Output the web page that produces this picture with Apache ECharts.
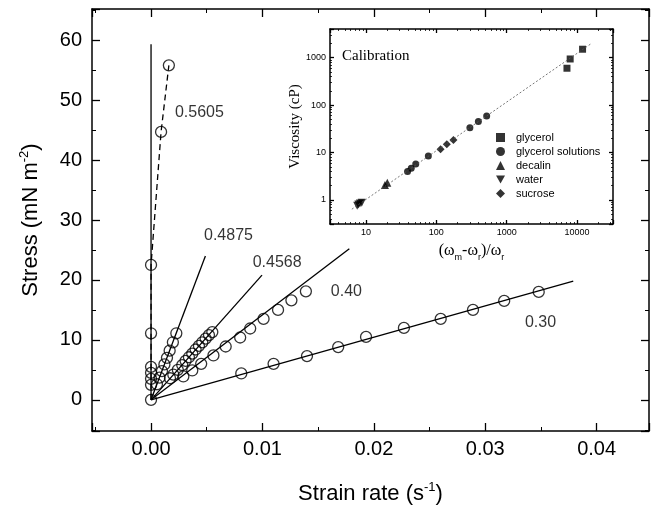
<!DOCTYPE html>
<html>
<head>
<meta charset="utf-8">
<title>Stress vs strain rate</title>
<script src="https://cdn.jsdelivr.net/npm/echarts@6/dist/echarts.min.js"></script>
<style>
  html, body { margin: 0; padding: 0; background: #fff; }
  #chart { width: 654px; height: 510px; }
</style>
</head>
<body>
<div id="chart"></div>
<script>
'use strict';
// DATA - main plot (strain rate in s^-1, stress in mN m^-2)
const x5605 = [0, 0, 0, 0, 0, 0, 0, 0.0009, 0.0016];
const y5605 = [0, 2.5, 3.5, 4.5, 5.5, 11.1, 22.5, 44.7, 55.8];
const x4875 = [0.00053, 0.00076, 0.00098, 0.0012, 0.00143, 0.00167, 0.00196, 0.00227];
const y4875 = [2.6, 3.7, 4.8, 5.9, 7.0, 8.2, 9.6, 11.1];
const x4568 = [0.0017, 0.0020, 0.0024, 0.0028, 0.0031, 0.0034, 0.0037, 0.0040, 0.0043, 0.0046, 0.0049, 0.0052, 0.0055];
const y4568 = [3.6, 4.2, 5.0, 5.8, 6.5, 7.1, 7.7, 8.4, 9.0, 9.6, 10.2, 10.8, 11.3];
const x40 = [0.0029, 0.0037, 0.0045, 0.0056, 0.0067, 0.0080, 0.0089, 0.0101, 0.0114, 0.0126, 0.0139];
const y40 = [3.9, 4.9, 6.0, 7.4, 8.9, 10.4, 11.9, 13.5, 15.0, 16.6, 18.1];
const x30 = [0.0081, 0.0110, 0.0140, 0.0168, 0.0193, 0.0227, 0.0260, 0.0289, 0.0317, 0.0348];
const y30 = [4.4, 6.0, 7.3, 8.8, 10.5, 12.0, 13.5, 15.0, 16.5, 18.0];
// fitted straight lines (end points, all start at the origin)
const fitEndX = [0, 0.00488, 0.00996, 0.0178, 0.0379];
const fitEndY = [59.3, 24.0, 20.8, 25.2, 19.8];
// series tags
const tagText = ['0.5605', '0.4875', '0.4568', '0.40', '0.30'];
const tagAtX = [0.00434, 0.00695, 0.01132, 0.01754, 0.03496];
const tagAtY = [48.0, 27.4, 22.9, 18.0, 12.9];

// DATA - calibration inset
const calNames = ['glycerol', 'glycerol solutions', 'decalin', 'water', 'sucrose'];
const calX = [
  [7200, 8000, 12000],
  [39, 44, 51, 77, 300, 396, 520],
  [18.6, 20.1],
  [7.5, 7.8, 8.2, 8.7],
  [115, 141, 175],
];
const calY = [
  [600, 940, 1510],
  [4.0, 4.7, 5.75, 8.5, 33.5, 45, 59],
  [2.07, 2.32],
  [0.76, 0.8, 0.84, 0.88],
  [11.7, 15.0, 18.4],
];
const calFitX = [6.3, 16200];
const calFitY = [0.64, 2020];

// STYLE
const SANS = '"Liberation Sans", Arial, sans-serif';
const SERIF = '"Liberation Serif", "Times New Roman", serif';
const calSymbols = ['rect', 'circle', 'triangle', 'path://M0,0L2,0L1,1.75Z', 'diamond'];
const calSizes = [7, 7, 8, 8, 8];

const chart = echarts.init(document.getElementById('chart'), null, {renderer: 'canvas'});

/**
 * pairs two arrays into [x, y] points
 * @param {Array} xs
 * @param {Array} ys
 * @return {Array}
 */
function zip(xs, ys) {
  return xs.map((x, i) => [x, ys[i]]);
}

/**
 * common look of a framed axis with ticks pointing inwards
 * @param {Object} extra
 * @param {Number} tick
 * @return {Object}
 */
function frameAxis(extra, tick) {
  return Object.assign({
    splitLine: {show: false},
    axisLine: {show: true, onZero: false, lineStyle: {color: '#000', width: 1.5}},
    axisTick: {show: true, inside: true, length: tick, lineStyle: {color: '#000', width: 1.3}},
    minorTick: {show: true, splitNumber: 2, length: tick / 2, lineStyle: {color: '#000', width: 1}},
    axisLabel: {show: false},
  }, extra);
}

const mainX = {min: -0.0053, max: 0.0447, splitNumber: 5};
const mainY = {min: -5.2, max: 65.2, splitNumber: 7};
const calXr = {type: 'log', logBase: 10, min: 3.08, max: 32500};
const calYr = {type: 'log', logBase: 10, min: 0.312, max: 4030};

const mainLabel = {
  show: true, color: '#000', fontFamily: SANS, fontSize: 20,
  showMinLabel: false, showMaxLabel: false,
};
const calLabel = {
  show: true, color: '#000', fontFamily: SANS, fontSize: 9, margin: 4,
  showMinLabel: false, showMaxLabel: false,
  formatter: (v) => String(Math.round(v)),
};
const calMinor = {show: true, splitNumber: 9, length: 2, lineStyle: {color: '#000', width: 0.8}};

const series = [];
// fitted lines
fitEndX.forEach((x, i) => {
  series.push({
    type: 'line', xAxisIndex: 0, yAxisIndex: 0, silent: true,
    symbol: 'none', data: [[0, 0], [x, fitEndY[i]]],
    lineStyle: {color: '#000', width: 1.3},
  });
});
// dashed guide through the 0.5605 points
series.push({
  type: 'line', xAxisIndex: 0, yAxisIndex: 0, symbol: 'none',
  data: zip(x5605, y5605),
  lineStyle: {color: '#000', width: 1.3, type: [6, 4]},
});
// measured points
[[x5605, y5605], [x4875, y4875], [x4568, y4568], [x40, y40], [x30, y30]].forEach((p) => {
  series.push({
    type: 'scatter', xAxisIndex: 0, yAxisIndex: 0,
    symbol: 'circle', symbolSize: 11, data: zip(p[0], p[1]),
    itemStyle: {color: 'rgba(0,0,0,0)', borderColor: '#000', borderWidth: 1.3},
  });
});
// tags
series.push({
  type: 'scatter', xAxisIndex: 0, yAxisIndex: 0, symbolSize: 0,
  data: tagText.map((t, i) => ({name: t, value: [tagAtX[i], tagAtY[i]]})),
  label: {
    show: true, position: 'inside', formatter: '{b}',
    color: '#000', fontFamily: SANS, fontSize: 16,
  },
});
// calibration fit
series.push({
  type: 'line', xAxisIndex: 2, yAxisIndex: 2, symbol: 'none',
  data: zip(calFitX, calFitY),
  lineStyle: {color: '#555', width: 0.8, type: [2, 2]},
});
calNames.forEach((name, i) => {
  series.push({
    type: 'scatter', name: name, xAxisIndex: 2, yAxisIndex: 2,
    symbol: calSymbols[i], symbolSize: calSizes[i],
    data: zip(calX[i], calY[i]),
    itemStyle: {color: '#000'},
  });
});

const option = {
  animation: false,
  backgroundColor: '#fff',
  grid: [
    {left: 92, right: 5, top: 9, bottom: 79, containLabel: false, outerBoundsMode: 'none'},
    {left: 330, right: 41, top: 29, bottom: 286, containLabel: false, outerBoundsMode: 'none',
      show: true, backgroundColor: '#fff', borderWidth: 0},
  ],
  legend: {
    orient: 'vertical', left: 491, top: 127,
    itemWidth: 9, itemHeight: 9, itemGap: 3,
    textStyle: {color: '#000', fontFamily: SANS, fontSize: 11, lineHeight: 10, padding: [0, 0, 0, 6]},
    data: calNames, selectedMode: false,
  },
  title: {
    text: 'Calibration', left: 337, top: 44,
    textStyle: {fontFamily: SERIF, fontWeight: 'normal', fontSize: 15, color: '#000'},
  },
  xAxis: [
    frameAxis(Object.assign({
      type: 'value', gridIndex: 0, position: 'bottom',
      axisLabel: Object.assign({margin: 8, formatter: (v) => v.toFixed(2)}, mainLabel),
      name: '{t|Strain rate (s}{p|-1}{t|)}', nameLocation: 'middle', nameGap: 50,
      nameTextStyle: {rich: {
        t: {fontFamily: SANS, fontSize: 22, color: '#000', lineHeight: 26},
        p: {fontFamily: SANS, fontSize: 13, color: '#000', lineHeight: 26, verticalAlign: 'top'},
      }},
    }, mainX), 8),
    frameAxis(Object.assign({type: 'value', gridIndex: 0, position: 'top'}, mainX), 8),
    frameAxis(Object.assign({
      gridIndex: 1, position: 'bottom', minorTick: calMinor,
      axisLabel: calLabel,
      name: '{t|(ω}{s|m}{t|-ω}{s|r}{t|)/ω}{s|r}', nameLocation: 'middle', nameGap: 16,
      nameTextStyle: {rich: {
        t: {fontFamily: SERIF, fontSize: 16, color: '#000', lineHeight: 22},
        s: {fontFamily: SANS, fontSize: 9, color: '#000', lineHeight: 22, verticalAlign: 'bottom'},
      }},
    }, calXr), 4),
    frameAxis(Object.assign({gridIndex: 1, position: 'top', minorTick: calMinor}, calXr), 4),
  ],
  yAxis: [
    frameAxis(Object.assign({
      type: 'value', gridIndex: 0, position: 'left',
      axisLabel: Object.assign({margin: 10}, mainLabel),
      name: '{t|Stress (mN m}{p|-2}{t|)}', nameLocation: 'middle', nameGap: 48,
      nameTextStyle: {rich: {
        t: {fontFamily: SANS, fontSize: 22, color: '#000', lineHeight: 26},
        p: {fontFamily: SANS, fontSize: 13, color: '#000', lineHeight: 26, verticalAlign: 'top'},
      }},
    }, mainY), 8),
    frameAxis(Object.assign({type: 'value', gridIndex: 0, position: 'right'}, mainY), 8),
    frameAxis(Object.assign({
      gridIndex: 1, position: 'left', minorTick: calMinor,
      axisLabel: calLabel,
      name: 'Viscosity (cP)', nameLocation: 'middle', nameGap: 22,
      nameTextStyle: {fontFamily: SERIF, fontSize: 15, color: '#000'},
    }, calYr), 4),
    frameAxis(Object.assign({gridIndex: 1, position: 'right', minorTick: calMinor}, calYr), 4),
  ],
  series: series,
};

chart.setOption(option);
</script>
</body>
</html>
